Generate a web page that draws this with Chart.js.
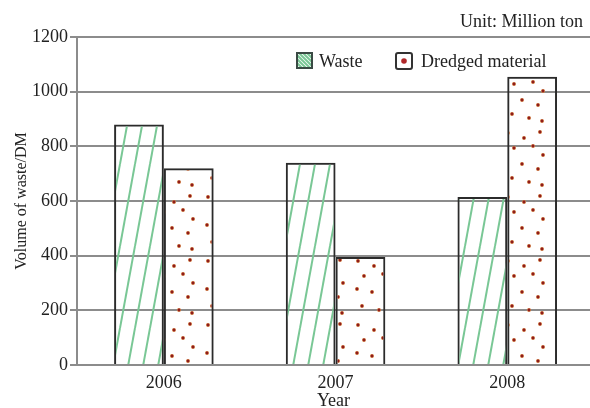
<!DOCTYPE html>
<html>
<head>
<meta charset="utf-8">
<script src="https://cdn.jsdelivr.net/npm/chart.js@4/dist/chart.umd.min.js"></script>
<style>
  html, body { margin: 0; padding: 0; background: #fff; overflow: hidden; }
  #wrap { width: 590px; height: 408px; }
</style>
</head>
<body>
<div id="wrap"><canvas id="c"></canvas></div>
<script>
const years = [2006, 2007, 2008];
const wasteValues = [880, 740, 615];
const dredgedValues = [720, 395, 1055];
const seriesLabels = ['Waste', 'Dredged material'];
const yTicks = [0, 200, 400, 600, 800, 1000, 1200];
const unitText = 'Unit: Million ton';
const xTitle = 'Year';
const yTitle = 'Volume of waste/DM';

const serif = 'Liberation Serif, Times New Roman, serif';
const textColor = '#222';
const gridColor = '#8c8c8c';
const barEdge = '#2b2b2b';
const hatchColor = '#79c795';
const dotColor = '#8e1c1c';

const canvas = document.getElementById('c');
const mainCtx = canvas.getContext('2d');

// steep "/" stripes, tile wraps horizontally
function makeHatch() {
    const t = document.createElement('canvas');
    t.width = 15; t.height = 82;
    const g = t.getContext('2d');
    g.strokeStyle = hatchColor;
    g.lineWidth = 2;
    for (const dx of [-15, 0, 15]) {
        g.beginPath();
        g.moveTo(dx, 82);
        g.lineTo(dx + 15, 0);
        g.stroke();
    }
    return mainCtx.createPattern(t, 'repeat');
}

// scattered dots
function makeDots() {
    const t = document.createElement('canvas');
    t.width = 50; t.height = 64;
    const g = t.getContext('2d');
    const spots = [[8,5],[24,10],[40,4],[14,20],[33,18],[43,27],[7,33],[22,36],[38,41],[12,50],[29,54],[42,57]];
    for (const [x, y] of spots) {
        g.fillStyle = '#d98a4a';
        g.beginPath(); g.arc(x, y, 2, 0, Math.PI * 2); g.fill();
        g.fillStyle = dotColor;
        g.beginPath(); g.arc(x, y, 1.4, 0, Math.PI * 2); g.fill();
    }
    return mainCtx.createPattern(t, 'repeat');
}

const boxLegend = {
    id: 'boxLegend',
    afterDraw(chart) {
        const ctx = chart.ctx;
        ctx.save();
        // waste swatch
        ctx.save();
        ctx.beginPath(); ctx.rect(297, 53, 15, 15); ctx.clip();
        ctx.fillStyle = '#fff'; ctx.fillRect(297, 53, 15, 15);
        ctx.strokeStyle = hatchColor; ctx.lineWidth = 2;
        for (let k = -14; k <= 16; k += 4) {
            ctx.beginPath(); ctx.moveTo(297 + k, 53); ctx.lineTo(297 + k + 15, 68); ctx.stroke();
        }
        ctx.restore();
        ctx.strokeStyle = '#3a4a44'; ctx.lineWidth = 2;
        ctx.strokeRect(297, 53, 15, 15);
        // dredged swatch
        ctx.fillStyle = '#fff';
        ctx.beginPath(); ctx.roundRect(396, 53, 16, 16, 2); ctx.fill();
        ctx.strokeStyle = '#333'; ctx.lineWidth = 2; ctx.stroke();
        ctx.fillStyle = '#b0282a';
        ctx.beginPath(); ctx.arc(404, 61, 2.8, 0, Math.PI * 2); ctx.fill();
        // labels
        ctx.fillStyle = textColor;
        ctx.font = '18px ' + serif;
        ctx.textBaseline = 'alphabetic';
        ctx.fillText(chart.data.datasets[0].label, 319, 67);
        ctx.fillText(chart.data.datasets[1].label, 421, 67);
        // unit note
        ctx.textAlign = 'right';
        ctx.fillText(unitText, 583, 27);
        ctx.restore();
    }
};

new Chart(canvas, {
    type: 'bar',
    data: {
        labels: years,
        datasets: [
            {
                label: seriesLabels[0],
                data: wasteValues,
                backgroundColor: makeHatch(),
                borderColor: barEdge,
                borderWidth: 2,
                categoryPercentage: 0.58,
                barPercentage: 1
            },
            {
                label: seriesLabels[1],
                data: dredgedValues,
                backgroundColor: makeDots(),
                borderColor: barEdge,
                borderWidth: 2,
                categoryPercentage: 0.58,
                barPercentage: 1
            }
        ]
    },
    options: {
        responsive: true,
        maintainAspectRatio: false,
        animation: false,
        layout: { padding: { left: 0, right: 0, top: 37, bottom: 0 } },
        plugins: {
            legend: { display: false },
            tooltip: { enabled: false },
            title: { display: false }
        },
        scales: {
            x: {
                type: 'linear',
                offset: false,
                min: 2005.494,
                max: 2008.482,
                afterBuildTicks: function(scale) {
                    scale.ticks = years.map(v => ({ value: v }));
                },
                afterFit: function(scale) {
                    scale.height = 43;
                },
                grid: { display: false },
                border: { color: gridColor, width: 2 },
                ticks: {
                    color: textColor,
                    font: { family: serif, size: 18 },
                    padding: -1,
                    maxRotation: 0,
                    callback: function(value) {
                        return String(value);
                    }
                },
                title: {
                    display: true,
                    text: xTitle,
                    color: textColor,
                    font: { family: serif, size: 18 },
                    padding: { top: 0, bottom: -4 }
                }
            },
            y: {
                min: 0,
                max: 1200,
                afterBuildTicks: function(scale) {
                    scale.ticks = yTicks.map(v => ({ value: v }));
                },
                afterFit: function(scale) {
                    scale.width = 77;
                },
                grid: { color: gridColor, lineWidth: 2, tickLength: 7 },
                border: { color: gridColor, width: 2 },
                ticks: {
                    color: textColor,
                    font: { family: serif, size: 18 },
                    padding: 2,
                    callback: function(value) {
                        return String(value);
                    }
                },
                title: {
                    display: true,
                    text: yTitle,
                    color: textColor,
                    font: { family: serif, size: 16 },
                    padding: { top: 12, bottom: 0 }
                }
            }
        }
    },
    plugins: [boxLegend]
});
</script>
</body>
</html>
